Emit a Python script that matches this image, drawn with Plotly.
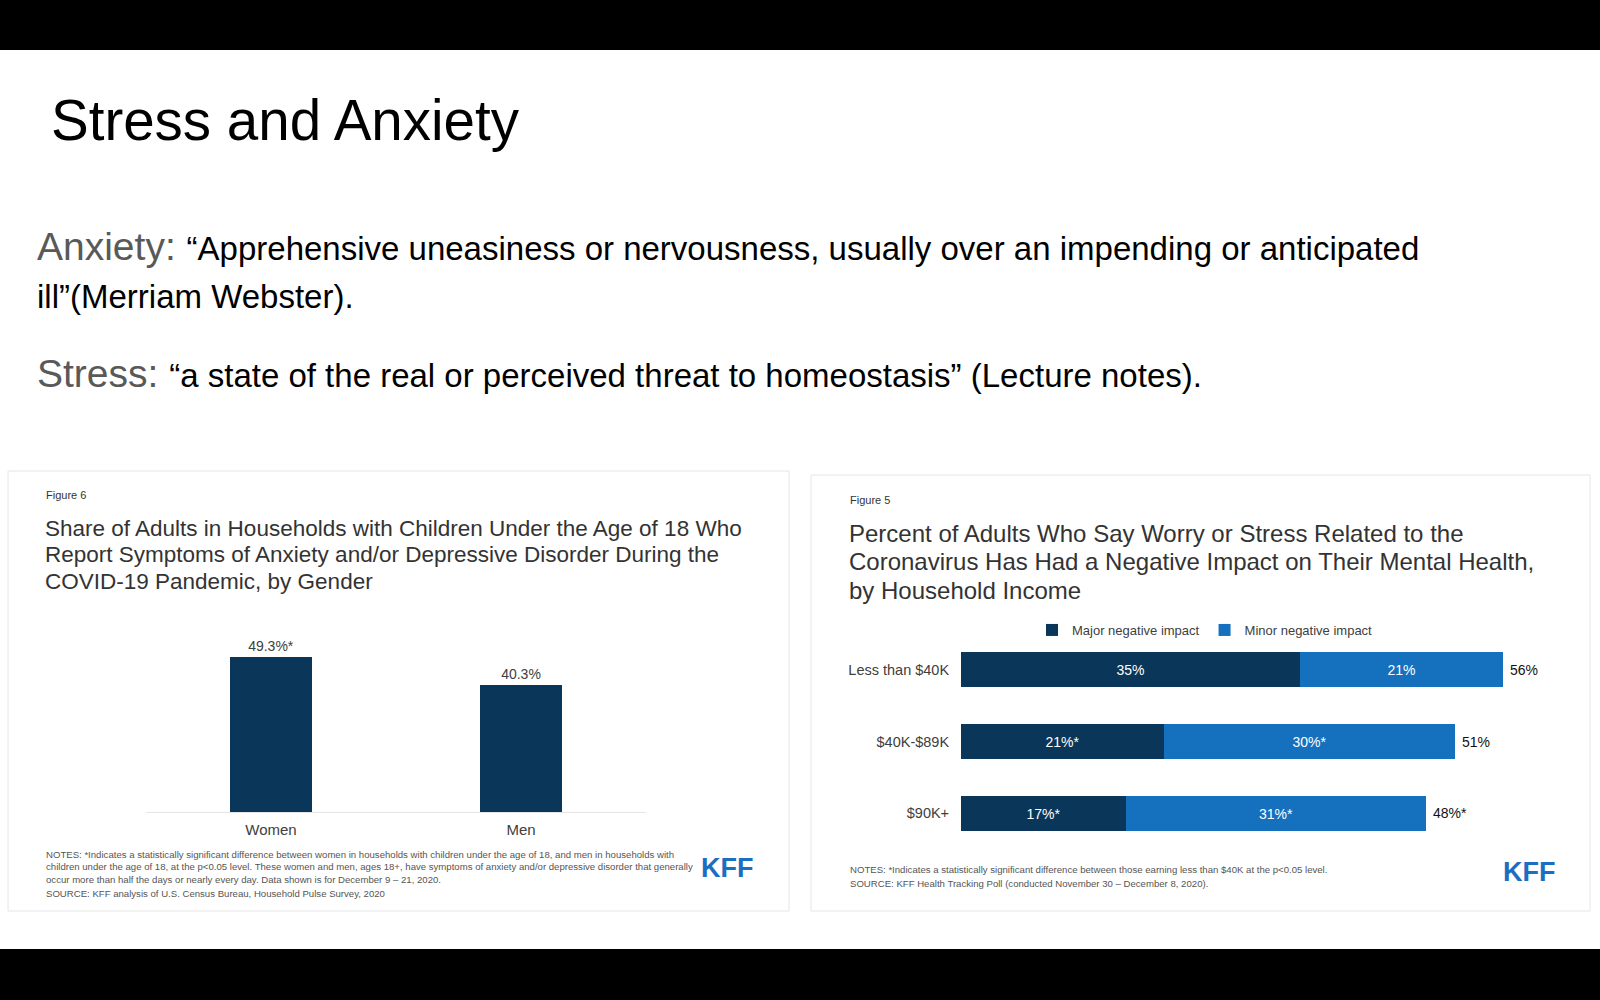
import plotly.graph_objects as go

W, H = 1600, 1000

# Figure 6: share of adults with anxiety/depression symptoms, by gender
genders = ["Women", "Men"]
gender_share = [49.3, 40.3]
gender_sig = ["*", ""]

# Figure 5: negative mental health impact, by household income
income_groups = ["Less than $40K", "$40K-$89K", "$90K+"]
major_impact = [35, 21, 17]
minor_impact = [21, 30, 31]
major_sig = ["", "*", "*"]
minor_sig = ["", "*", "*"]
total_impact = [56, 51, 48]
total_sig = ["", "", "*"]

NAVY = "#0a3659"
BLUE = "#1570be"
TEXT = "#404040"
FONT = "Liberation Sans, Arial, sans-serif"


def px(x):
    return x / W


def py(y):
    return 1 - y / H


def label(v, s):
    return f"{v}%{s}"


fig = go.Figure()

fig.add_trace(
    go.Bar(
        x=genders,
        y=gender_share,
        text=[label(v, s) for v, s in zip(gender_share, gender_sig)],
        textposition="outside",
        textfont={"size": 14, "color": TEXT},
        marker={"color": NAVY, "line": {"width": 0}},
        width=0.33,
        cliponaxis=False,
        showlegend=False,
        hoverinfo="skip",
        xaxis="x",
        yaxis="y",
    )
)

for name, values, sig, color in [
    ("Major negative impact", major_impact, major_sig, NAVY),
    ("Minor negative impact", minor_impact, minor_sig, BLUE),
]:
    fig.add_trace(
        go.Bar(
            y=income_groups,
            x=values,
            orientation="h",
            name=name,
            text=[label(v, s) for v, s in zip(values, sig)],
            textposition="inside",
            insidetextanchor="middle",
            textfont={"size": 14, "color": "white"},
            marker={"color": color, "line": {"width": 0}},
            width=0.49,
            hoverinfo="skip",
            xaxis="x2",
            yaxis="y2",
        )
    )

annotations = []


def note(text, x, y, size, color=TEXT, **kw):
    annotations.append(
        dict(
            text=text, x=px(x), y=py(y), xref="paper", yref="paper",
            xanchor="left", yanchor="middle",
            showarrow=False, align="left",
            font={"size": size, "color": color, "family": FONT},
            **kw,
        )
    )


# slide text
note("Stress and Anxiety", 49, 120, 56.5, "#000000")
note(
    "<span style='font-size:39px;color:#595959'>Anxiety: </span>“Apprehensive uneasiness or "
    "nervousness, usually over an impending or anticipated",
    35, 246, 33, "#000000",
)
note("ill”(Merriam Webster).", 35, 296, 33, "#000000")
note(
    "<span style='font-size:39px;color:#595959'>Stress: </span>“a state of the real or perceived "
    "threat to homeostasis” (Lecture notes).",
    35, 373, 33, "#000000",
)

# left panel text
note("Figure 6", 44, 495, 11, "#333333")
left_title = [
    "Share of Adults in Households with Children Under the Age of 18 Who",
    "Report Symptoms of Anxiety and/or Depressive Disorder During the",
    "COVID-19 Pandemic, by Gender",
]
for i, line in enumerate(left_title):
    note(line, 43, 528 + 26.5 * i, 22.5, "#333333")
note(
    "NOTES: *Indicates a statistically significant difference between women in households with children "
    "under the age of 18, and men in households with<br>"
    "children under the age of 18, at the p&lt;0.05 level. These women and men, ages 18+, have symptoms "
    "of anxiety and/or depressive disorder that generally<br>"
    "occur more than half the days or nearly every day. Data shown is for December 9 – 21, 2020.",
    44, 867, 9.6, "#555555",
)
note("SOURCE: KFF analysis of U.S. Census Bureau, Household Pulse Survey, 2020", 44, 893, 9.6, "#555555")
note("<b>KFF</b>", 699, 868, 27, "#1b6fc2")

# right panel text
note("Figure 5", 848, 500, 11, "#333333")
right_title = [
    "Percent of Adults Who Say Worry or Stress Related to the",
    "Coronavirus Has Had a Negative Impact on Their Mental Health,",
    "by Household Income",
]
for i, line in enumerate(right_title):
    note(line, 847, 533 + 28.5 * i, 24, "#333333")
note(
    "NOTES: *Indicates a statistically significant difference between those earning less than $40K "
    "at the p&lt;0.05 level.",
    848, 869, 9.6, "#555555",
)
note("SOURCE: KFF Health Tracking Poll (conducted November 30 – December 8, 2020).", 848, 883, 9.6, "#555555")
note("<b>KFF</b>", 1501, 872, 27, "#1b6fc2")

# totals at end of stacked bars
for grp, tot, sig in zip(income_groups, total_impact, total_sig):
    annotations.append(
        dict(
            text=label(tot, sig), x=tot, y=grp, xref="x2", yref="y2",
            xanchor="left", yanchor="middle", xshift=5, showarrow=False,
            font={"size": 14, "color": "#111111", "family": FONT},
        )
    )

shapes = [
    dict(type="rect", xref="paper", yref="paper", x0=0, x1=1, y0=py(0), y1=py(50),
         fillcolor="black", line={"width": 0}, layer="below"),
    dict(type="rect", xref="paper", yref="paper", x0=0, x1=1, y0=py(949), y1=py(1000),
         fillcolor="black", line={"width": 0}, layer="below"),
    dict(type="rect", xref="paper", yref="paper", x0=px(8), x1=px(789), y0=py(471), y1=py(911),
         fillcolor="white", line={"width": 1, "color": "#e6e6e6"}, layer="below"),
    dict(type="rect", xref="paper", yref="paper", x0=px(811), x1=px(1590), y0=py(475), y1=py(911),
         fillcolor="white", line={"width": 1, "color": "#e6e6e6"}, layer="below"),
]

fig.update_layout(
    width=W,
    height=H,
    margin={"l": 0, "r": 0, "t": 0, "b": 0},
    paper_bgcolor="white",
    plot_bgcolor="rgba(0,0,0,0)",
    font={"family": FONT, "color": TEXT},
    barmode="stack",
    bargap=0,
    annotations=annotations,
    shapes=shapes,
    legend={
        "orientation": "h",
        "traceorder": "normal",
        "x": px(1032),
        "y": py(630),
        "xanchor": "left",
        "yanchor": "middle",
        "font": {"size": 13, "color": TEXT},
        "itemwidth": 30,
        "bgcolor": "rgba(0,0,0,0)",
    },
    xaxis={
        "domain": [px(146), px(646)],
        "anchor": "y",
        "showline": True,
        "linecolor": "#e6e6e6",
        "linewidth": 1,
        "showgrid": False,
        "ticks": "",
        "ticklabelstandoff": 4,
        "tickfont": {"size": 15, "color": TEXT},
        "fixedrange": True,
    },
    yaxis={
        "domain": [py(812), py(620)],
        "anchor": "x",
        "range": [0, 61.1],
        "visible": False,
        "fixedrange": True,
    },
    xaxis2={
        "domain": [px(961), px(1561)],
        "anchor": "y2",
        "range": [0, 62],
        "visible": False,
        "fixedrange": True,
    },
    yaxis2={
        "domain": [py(849), py(634)],
        "anchor": "x2",
        "autorange": "reversed",
        "showgrid": False,
        "showline": False,
        "ticks": "outside",
        "ticklen": 8,
        "tickcolor": "rgba(0,0,0,0)",
        "tickfont": {"size": 14.5, "color": TEXT},
        "fixedrange": True,
    },
)

fig.write_html(
    "out.html",
    config={"displayModeBar": False},
    post_script="document.body.style.margin='0';",
)
